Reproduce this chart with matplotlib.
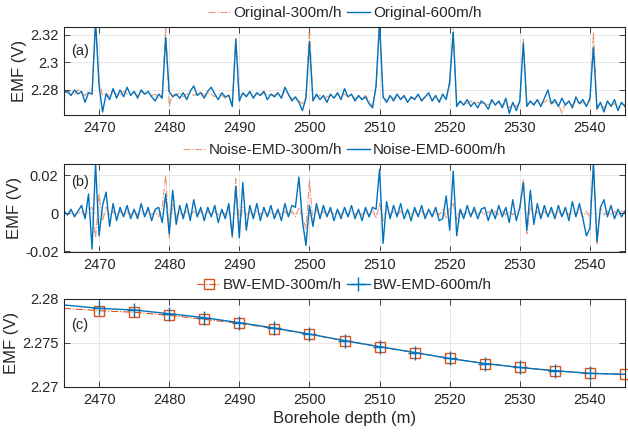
import numpy as np
import matplotlib
matplotlib.use('Agg')
import matplotlib.pyplot as plt

plt.rcParams['font.family'] = ['Liberation Sans', 'DejaVu Sans']

blue = '#0072BD'
orange = '#D95319'
txt = '#262626'

# depth grid for panels (a) and (b), 0.5 m steps
depth = np.linspace(2465, 2545, 161)

# (a) original signals, mV relative to 2.28 V
orig300_mV = [
    -1, -2, -1, -3, 0, -2, -4, -1, -3, 50,
    6, -4, -2, -5, -1, -3, -4, -1, -3, -2,
    -2, -4, -1, -3, -2, -4, -3, -6, -4, 46,
    -12, -3, -4, -2, -5, -3, -2, -4, -3, -1,
    -4, -2, -3, -5, -3, -4, -6, -3, -11, 38,
    -5, -3, -4, -2, -5, -3, -4, -2, -4, -3,
    -4, -3, -5, -1, -4, -6, -7, -8, -10, -5,
    45, -6, -5, -4, -6, -5, -4, -6, -3, -5,
    -3, -5, -4, -6, -5, -6, -4, -8, -12, 2,
    46, -6, -7, -5, -6, -4, -6, -5, -8, -6,
    -6, -5, -7, -5, -4, -7, -5, -8, -5, -6,
    4, 44, -10, -9, -9, -10, -8, -10, -9, -10,
    -9, -11, -9, -10, -9, -11, -10, -13, -10, -12,
    -9, 37, -10, -9, -10, -8, -10, -9, -7, -10,
    -9, -10, -17, -10, -9, -11, -8, -10, -9, -11,
    -8, 42, -12, -10, -13, -9, -11, -10, -12, -10,
    -11]
orig600_mV = [
    -2, -1, -4, 0, -3, -1, -9, -2, -3, 50,
    3, -16, -3, -7, 1, -6, 0, -5, 2, -4,
    -1, -6, 0, -3, -1, -5, -8, -3, -6, 38,
    -1, -5, -3, -6, -2, -7, -1, 3, -4, -2,
    -6, -1, 2, -3, -7, -2, -5, -4, -12, 37,
    -8, -2, -5, -1, -6, -2, -4, -1, -7, -3,
    -5, -2, -6, 2, -3, -8, -5, -9, -15, -6,
    35, -8, -3, -7, -4, -9, -3, -6, -2, -7,
    1, -5, -3, -8, -4, -7, -5, -10, -13, 3,
    50, -5, -9, -4, -8, -3, -7, -4, -9, -5,
    -7, -3, -8, -5, -2, -8, -4, -9, -3, -7,
    6, 42, -12, -8, -11, -7, -12, -9, -13, -8,
    -10, -14, -7, -11, -8, -13, -6, -17, -9, -15,
    -8, 34, -12, -8, -11, -7, -12, -6, 0, -10,
    -7, -12, -6, -11, -8, -13, -5, -10, -7, -12,
    -6, 31, -14, -9, -16, -8, -12, -7, -15, -9,
    -12]

# (b) noise from EMD, mV
noise300_mV = [
    1, -1, 1, -1, 0, 1, -1, 2, 3, -13,
    10, -4, 3, -1, 1, -1, 1, -1, 1, -1,
    1, -1, 1, -1, 1, -1, 1, -2, 3, 20,
    -13, 5, -2, 1, -1, 1, -1, 1, -1, 1,
    -1, 1, -1, 1, -1, 1, -1, 2, -13, 18,
    -6, 3, -1, 1, -1, 1, -1, 1, -1, 1,
    -1, 1, -1, 1, -1, 1, -2, 3, -2, -8,
    17, -5, 2, -1, 1, -1, 1, -1, 1, -1,
    1, -1, 1, -1, 1, -1, 1, -2, 2, -3,
    5, -4, 2, -1, 1, -1, 1, -1, 1, -1,
    1, -1, 1, -1, 1, -1, 1, -1, 2, -3,
    3, 5, -4, 2, -1, 1, -1, 1, -1, 1,
    -1, 1, -1, 1, -1, 1, -1, 1, -1, 1,
    2, 18, -11, 4, -2, 1, -1, 1, -1, 1,
    -1, 1, -1, 1, -1, 1, -1, 2, -2, 1,
    -3, 26, -16, 3, -1, 1, -1, 1, -1, 1,
    0]
noise600_mV = [
    1, -1, 2, -2, 1, 4, -3, 10, -19, 26,
    -12, 4, 11, -7, 5, -4, 3, -2, 4, -3,
    2, -3, 5, -2, 3, -4, 2, 3, -5, 10,
    -11, 12, -6, 4, -3, 5, -4, 7, -2, 3,
    -4, 3, -2, 4, -5, 2, -3, 5, -12, 14,
    -13, 16, -9, 4, -3, 5, -4, 3, -2, 4,
    -3, 2, -4, 5, -2, 4, 3, 19, -4, -17,
    4, -7, 5, -3, 4, -2, 3, -4, 2, -3,
    3, -2, 4, -3, 2, -4, 3, -2, 3, 2,
    23, -16, 6, -3, 4, -2, 5, -3, 2, -4,
    3, -2, 4, -3, 2, -2, 3, -4, -3, 9,
    -9, 22, -12, 2, -3, 4, -2, 3, -3, 2,
    3, -4, 2, -3, 4, -2, 3, -5, 7, -4,
    3, 16, -9, 12, -6, 5, -3, 4, -2, 3,
    -3, 4, -2, 3, -4, 6, -2, 5, -3, -12,
    -8, 26, -15, 3, 7, -2, 4, -3, 2, -2,
    1]

# (c) baseline wander from EMD, V
bw_depth = [2465, 2470, 2475, 2480, 2485, 2490, 2495, 2500, 2505,
            2510, 2515, 2520, 2525, 2530, 2535, 2540, 2545]
bw300 = [2.27894, 2.27867, 2.27849, 2.27815, 2.27769, 2.27724, 2.27663, 2.27599,
         2.27526, 2.27458, 2.27392, 2.27324, 2.27267, 2.27222, 2.27185, 2.27155, 2.27144]
bw600 = [2.27932, 2.27894, 2.27875, 2.27833, 2.27788, 2.27731, 2.27670, 2.27602,
         2.27527, 2.27458, 2.27392, 2.27324, 2.27267, 2.27222, 2.27185, 2.27155, 2.27144]

xticks = [2470, 2480, 2490, 2500, 2510, 2520, 2530, 2540]
yt_a, yl_a = [2.28, 2.30, 2.32], ['2.28', '2.3', '2.32']
yt_b, yl_b = [-0.02, 0, 0.02], ['-0.02', '0', '0.02']
yt_c, yl_c = [2.27, 2.275, 2.28], ['2.27', '2.275', '2.28']

fig = plt.figure(figsize=(6.28, 4.32), dpi=100)
W, H = 628, 432
def box(top, bottom):
    return [64 / W, 1 - bottom / H, (625 - 64) / W, (bottom - top) / H]

axa = fig.add_axes(box(27, 115))
axb = fig.add_axes(box(164, 252))
axc = fig.add_axes(box(299, 387))

a300 = 2.28 + np.array(orig300_mV) / 1000
a600 = 2.28 + np.array(orig600_mV) / 1000
axa.plot(depth, a300, '-.', color=orange, lw=0.8, alpha=0.6, label='Original-300m/h')
axa.plot(depth, a600, '-', color=blue, lw=1.0, label='Original-600m/h')

axb.plot(depth, np.array(noise300_mV) / 1000, '-.', color=orange, lw=0.8, alpha=0.6,
         label='Noise-EMD-300m/h')
axb.plot(depth, np.array(noise600_mV) / 1000, '-', color=blue, lw=1.0,
         label='Noise-EMD-600m/h')

axc.plot(bw_depth, bw300, '-.', color=orange, lw=0.8, marker='s', ms=7, mfc='none',
         mec=orange, mew=1.0, markevery=slice(1, None), clip_on=False,
         label='BW-EMD-300m/h')
axc.plot(bw_depth, bw600, '-', color=blue, lw=1.0, marker='+', ms=10, mew=1.0,
         markevery=slice(1, -1), label='BW-EMD-600m/h')

for ax, yt, yl, ylim, tag, ty in [
        (axa, yt_a, yl_a, (2.2618, 2.3258), '(a)', 0.73),
        (axb, yt_b, yl_b, (-0.0205, 0.0258), '(b)', 0.80),
        (axc, yt_c, yl_c, (2.27, 2.28), '(c)', 0.70)]:
    ax.set_xlim(2465, 2545)
    ax.set_ylim(*ylim)
    ax.set_xticks(xticks)
    ax.set_xticklabels([str(t) for t in xticks])
    ax.set_yticks(yt)
    ax.set_yticklabels(yl)
    ax.grid(True, color='#e3e3e3', lw=0.6)
    ax.set_axisbelow(True)
    ax.tick_params(direction='in', top=True, right=True, length=4, width=0.6,
                   labelsize=10.5, colors=txt, pad=4)
    for s in ax.spines.values():
        s.set_color(txt)
        s.set_linewidth(0.8)
    ax.set_ylabel('EMF (V)', fontsize=12, color=txt, labelpad=2)
    ax.text(0.012, ty, tag, transform=ax.transAxes, fontsize=10.5, color=txt, va='center')
    ax.legend(loc='lower center', bbox_to_anchor=(0.5, 0.97), ncol=2, frameon=False,
              fontsize=11, handlelength=1.5, handletextpad=0.2, columnspacing=0.3,
              borderpad=0.1, labelcolor=txt)

axc.set_xlabel('Borehole depth (m)', fontsize=12, color=txt, labelpad=3)

fig.savefig('out.png', dpi=100)
